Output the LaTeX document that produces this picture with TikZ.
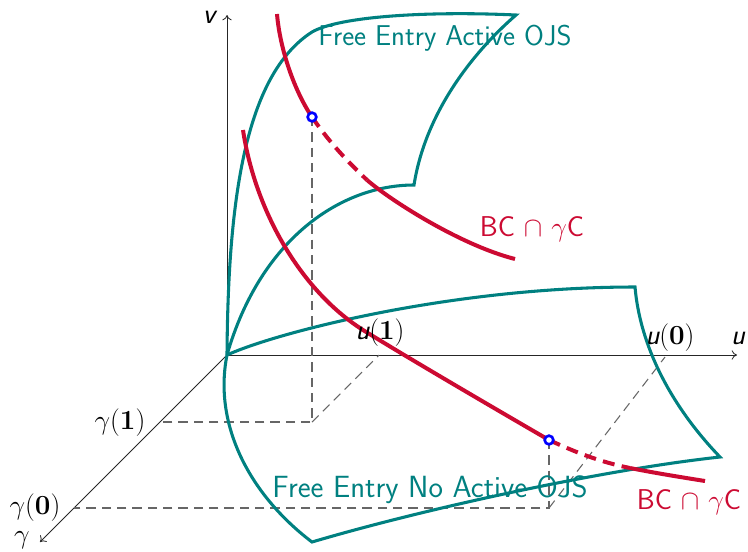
\documentclass[tikz,border=0pt]{standalone}
\usetikzlibrary{arrows.meta}
\definecolor{tealc}{RGB}{0,128,128}
\definecolor{redc}{RGB}{204,10,50}
\begin{document}
\begin{tikzpicture}[x=0.75pt,y=-0.75pt,
  surf/.style={draw=tealc, line width=2.3pt, line join=miter},
  bc/.style={draw=redc, line width=3pt},
  bcdash/.style={bc, dash pattern=on 9pt off 5.5pt},
  axis/.style={draw=black!85, line width=0.6pt, -{To[length=4pt,width=7pt]}},
  guide/.style={draw=black!60, line width=0.8pt, dash pattern=on 7pt off 4.5pt},
  lbl/.style={font=\fontsize{21.5}{25}\selectfont, inner sep=0pt},
  ptmark/.style={circle, draw=blue, fill=white, line width=2pt, inner sep=0pt, minimum size=6.5pt}]
\useasboundingbox (0,0) rectangle (748,551);

% axes
\coordinate (O) at (227,355);
\coordinate (vtip) at (227,15);
\coordinate (utip) at (737,355);
\coordinate (gtip) at (40,542);
\draw[axis] (O) -- (vtip);
\draw[axis] (O) -- (utip);
\draw[axis] (O) -- (gtip);

% guides
\coordinate (P1) at (312,117);
\coordinate (Q1) at (312,422);
\coordinate (G1) at (160,422);
\coordinate (U1) at (379,355);
\coordinate (P0) at (549,440);
\coordinate (Q0) at (549,508);
\coordinate (G0) at (74,508);
\coordinate (U0) at (665,357);
\draw[guide] (P1) -- (Q1) -- (G1);
\draw[guide] (Q1) -- (U1);
\draw[guide] (P0) -- (Q0) -- (G0);
\draw[guide] (Q0) -- (U0);

% upper surface
\draw[surf] (O) .. controls (228,200) and (245,75) .. (312,32)
  .. controls (340,16) and (430,11) .. (516,15)
  .. controls (470,55) and (425,115) .. (414,185)
  .. controls (340,185) and (260,240) .. (O);

% lower surface
\draw[surf] (O) .. controls (275,333) and (450,287) .. (635,287)
  .. controls (640,345) and (670,405) .. (720,457)
  .. controls (600,470) and (420,510) .. (312,542)
  .. controls (250,495) and (213,425) .. (O);

% red curves
\draw[bc] (277,14) .. controls (280,50) and (295,92) .. (P1);
\draw[bcdash] (P1) .. controls (329,142) and (348,162) .. (367,180);
\draw[bc] (367,180) .. controls (390,200) and (460,245) .. (515,259);

\draw[bc] (243,130) .. controls (255,210) and (300,290) .. (363,330)
  .. controls (400,353) and (480,400) .. (P0);
\draw[bcdash] (P0) .. controls (575,452) and (600,462) .. (630,468);
\draw[bc] (630,468) .. controls (655,473) and (680,477) .. (705,481);

\node[ptmark] (m1) at (P1) {};
\node[ptmark] (m0) at (P0) {};

% labels
\node[lbl, text=tealc] (la) at (445,38) {\sffamily Free Entry Active OJS};
\node[lbl, text=tealc, font=\fontsize{23}{27}\selectfont] (lb) at (430,490) {\sffamily Free Entry No Active OJS};
\node[lbl, text=redc] (lc) at (532,229) {\sffamily BC $\cap$ $\gamma$C};
\node[lbl, text=redc] (ld) at (689,502) {\sffamily BC $\cap$ $\gamma$C};
\node[lbl] (lu1) at (380,333) {{\sffamily\itshape u}$(\mathbf{1})$};
\node[lbl] (lu0) at (670,338) {{\sffamily\itshape u}$(\mathbf{0})$};
\node[lbl] (lg1) at (120,423) {$\gamma(\mathbf{1})$};
\node[lbl] (lg0) at (35,508) {$\gamma(\mathbf{0})$};
\node[lbl] (lv) at (209,17) {\sffamily\itshape v};
\node[lbl] (lu) at (738,338) {\sffamily\itshape u};
\node[lbl] (lg) at (22,540) {$\gamma$};
\end{tikzpicture}
\end{document}
